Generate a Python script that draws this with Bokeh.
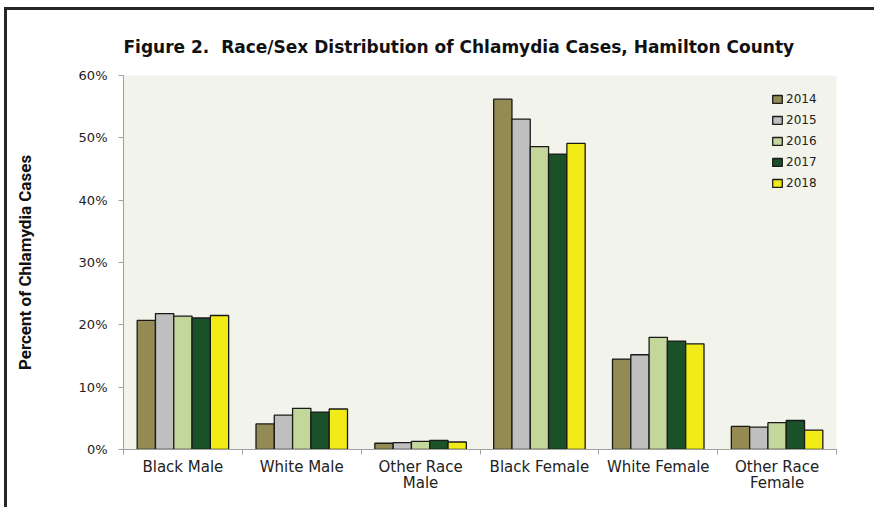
from bokeh.plotting import figure
from bokeh.models import Range1d, FixedTicker, Title, Legend, LegendItem, ColumnDataSource
from bokeh.transform import dodge
from bokeh.embed import file_html
from bokeh.resources import INLINE

# ---- data ----
categories = ["Black Male", "White Male", "Other Race\nMale",
              "Black Female", "White Female", "Other Race\nFemale"]
years = ["2014", "2015", "2016", "2017", "2018"]
v2014 = [20.7, 4.1, 1.0, 56.2, 14.5, 3.7]
v2015 = [21.8, 5.5, 1.1, 53.0, 15.2, 3.6]
v2016 = [21.4, 6.6, 1.3, 48.6, 18.0, 4.3]
v2017 = [21.1, 6.0, 1.45, 47.4, 17.4, 4.65]
v2018 = [21.5, 6.5, 1.2, 49.1, 16.95, 3.1]
y_ticks = [0, 10, 20, 30, 40, 50, 60]
y_tick_labels = ["0%", "10%", "20%", "30%", "40%", "50%", "60%"]
title_text = "Figure 2.\u00a0 Race/Sex Distribution of Chlamydia Cases, Hamilton County"
y_title = "Percent of Chlamydia Cases"

series = [v2014, v2015, v2016, v2017, v2018]
colors = ["#948A54", "#BFBFBF", "#C4D79B", "#1A5128", "#F2EB17"]

centers = [i + 0.5 for i in range(len(categories))]
bounds = [i for i in range(len(categories) + 1)]

src = ColumnDataSource(dict(x=centers, **{y: s for y, s in zip(years, series)}))

p = figure(width=870, height=500,
           x_range=Range1d(0, len(categories)), y_range=Range1d(0, 60),
           output_backend="svg", toolbar_location=None,
           min_border_left=116, min_border_right=41,
           min_border_top=65, min_border_bottom=61)
p.styles = {"border-left": "3px solid #262626", "border-top": "3px solid #262626",
            "margin-left": "4px", "margin-top": "7px"}
p.background_fill_color = "#F2F3EA"
p.border_fill_color = "white"
p.outline_line_color = None
p.grid.visible = False

bw = 0.154
items = []
for j, (yr, col) in enumerate(zip(years, colors)):
    r = p.vbar(x=dodge("x", (j - 2) * bw, range=p.x_range), top=yr, width=bw,
               source=src, fill_color=col, line_color="#1A1A1A", line_width=1.3)
    items.append(LegendItem(label=yr, renderers=[r]))

legend = Legend(items=items, location=(648, 259), margin=0, padding=5,
                glyph_width=12, glyph_height=10, label_standoff=3,
                label_height=14, spacing=7,
                label_text_font="DejaVu Sans", label_text_font_size="12px",
                label_text_color="#222222",
                background_fill_alpha=0, border_line_color=None)
p.add_layout(legend, "center")

# x axis
xa = p.xaxis[0]
xa.ticker = FixedTicker(ticks=centers, minor_ticks=bounds)
xa.major_label_overrides = {c: lab for c, lab in zip(centers, categories)}
xa.major_tick_line_color = None
xa.major_tick_out = 0
xa.major_tick_in = 0
xa.minor_tick_out = 5
xa.minor_tick_in = 0
xa.minor_tick_line_color = "#A0A0A0"
xa.axis_line_color = "#A0A0A0"
xa.major_label_standoff = 3
xa.major_label_text_font = "DejaVu Sans"
xa.major_label_text_font_size = "15px"
xa.major_label_text_line_height = 0.92
xa.major_label_text_color = "#222222"

# y axis
ya = p.yaxis[0]
ya.ticker = FixedTicker(ticks=y_ticks)
ya.major_label_overrides = {t: lab for t, lab in zip(y_ticks, y_tick_labels)}
ya.minor_tick_line_color = None
ya.major_tick_out = 5
ya.major_tick_in = 0
ya.major_tick_line_color = "#A0A0A0"
ya.axis_line_color = "#A0A0A0"
ya.major_label_standoff = 11
ya.major_label_text_font = "DejaVu Sans"
ya.major_label_text_font_size = "13px"
ya.major_label_text_color = "#222222"
ya.axis_label = y_title
ya.axis_label_standoff = 41
ya.axis_label_text_font = "Roboto"
ya.axis_label_text_font_style = "bold"
ya.axis_label_text_font_size = "17px"
ya.axis_label_text_color = "#111111"

p.add_layout(Title(text=title_text, align="left", offset=0, standoff=37,
                   text_font="DejaVu Sans", text_font_style="bold",
                   text_font_size="17px", text_color="#111111"), "above")

open("out.html", "w").write(file_html(p, INLINE))
